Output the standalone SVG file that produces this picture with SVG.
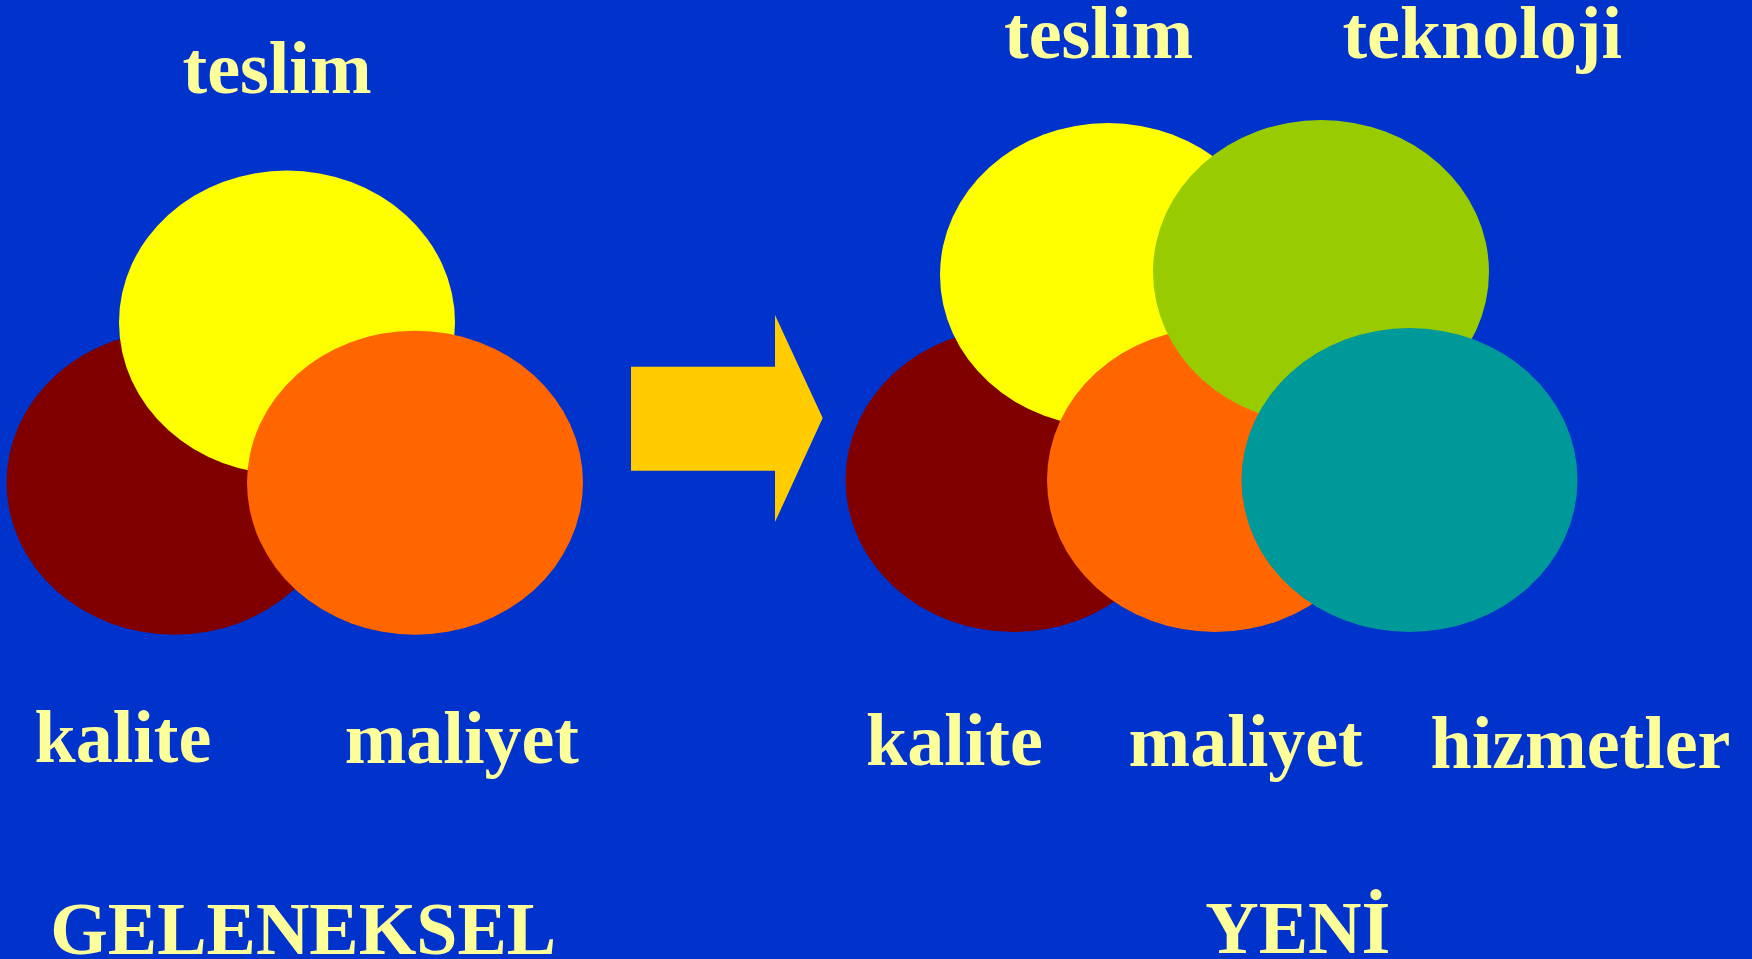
<svg xmlns="http://www.w3.org/2000/svg" width="1752" height="959" viewBox="0 0 1752 959">
<style>
.lbl{font-family:"Liberation Serif","Times New Roman",serif;font-weight:bold;font-size:74px;fill:#FFFF99}
.red{fill:#800000}.yel{fill:#FFFF00}.org{fill:#FF6600}.grn{fill:#99CC00}.teal{fill:#009999}
</style>
<rect x="0" y="0" width="1752" height="959" fill="#0033CC"/>
<g id="old-kalite"><ellipse class="red" cx="174.5" cy="482.7" rx="168" ry="152"/></g>
<g id="old-teslim"><ellipse class="yel" cx="287" cy="322.5" rx="168" ry="152"/></g>
<g id="old-maliyet"><ellipse class="org" cx="415" cy="482.7" rx="168" ry="152"/></g>
<g id="new-kalite"><ellipse class="red" cx="1013.5" cy="480" rx="168" ry="152"/></g>
<g id="new-teslim"><ellipse class="yel" cx="1108" cy="275" rx="168" ry="152"/></g>
<g id="new-maliyet"><ellipse class="org" cx="1215" cy="480" rx="168" ry="152"/></g>
<g id="new-teknoloji"><ellipse class="grn" cx="1321" cy="272" rx="168" ry="152"/></g>
<g id="new-hizmetler"><ellipse class="teal" cx="1409.5" cy="480" rx="168" ry="152"/></g>
<g id="connectors">
<polygon points="631,366.7 775,366.7 775,315 822.7,418 775,522 775,470.7 631,470.7" fill="#FFCC00"/>
</g>
<g id="labels">
<text class="lbl" x="182.5" y="92.6">teslim</text>
<text class="lbl" x="34.6" y="762">kalite</text>
<text class="lbl" x="344.7" y="762.5">maliyet</text>
<text class="lbl" x="50.3" y="954">GELENEKSEL</text>
<text class="lbl" x="1004" y="58">teslim</text>
<text class="lbl" x="1342.4" y="58">teknoloji</text>
<text class="lbl" x="866" y="765">kalite</text>
<text class="lbl" x="1128.5" y="766">maliyet</text>
<text class="lbl" x="1430.5" y="767.5">hizmetler</text>
<text class="lbl" x="1205.3" y="953">YENİ</text>
</g>
</svg>
